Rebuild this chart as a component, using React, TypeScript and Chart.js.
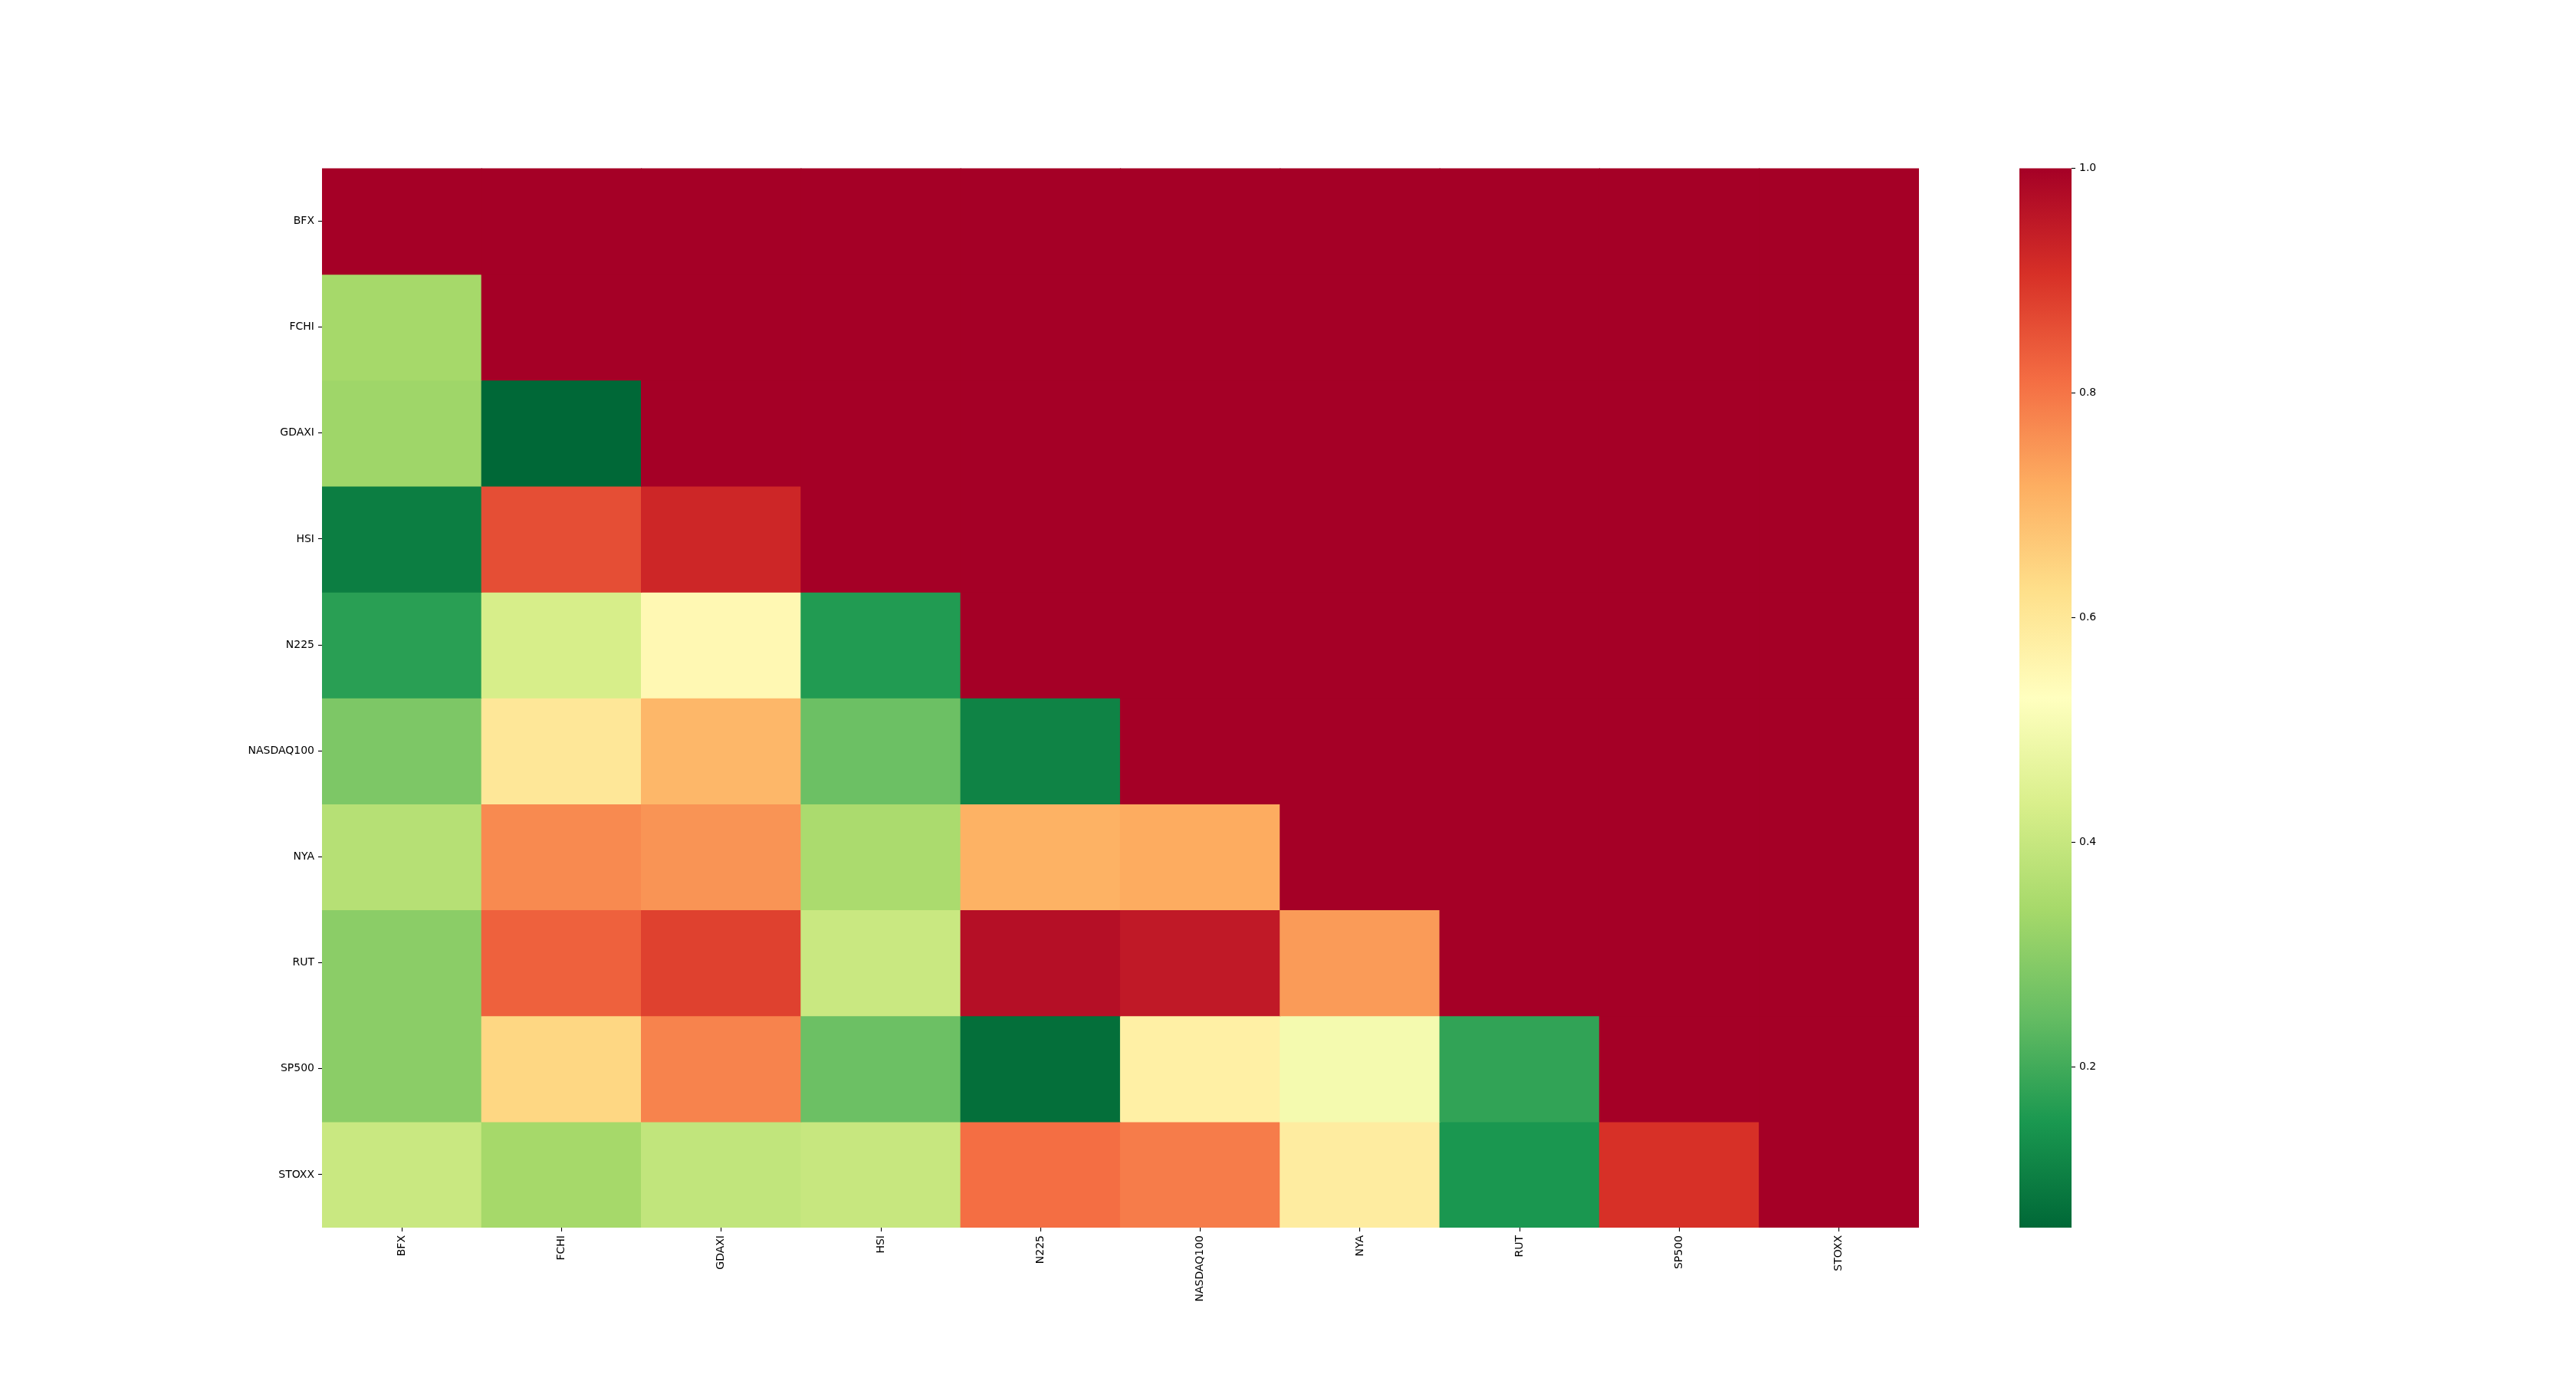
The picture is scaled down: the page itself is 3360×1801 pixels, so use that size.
import React, { useEffect, useRef } from 'react';
import { Chart, registerables } from 'chart.js';

Chart.register(...registerables);

const FONT = "'DejaVu Sans', sans-serif";

// Category labels (rows top→bottom, columns left→right)
const labels = ['BFX', 'FCHI', 'GDAXI', 'HSI', 'N225', 'NASDAQ100', 'NYA', 'RUT', 'SP500', 'STOXX'];

// Correlation matrix rows (upper triangle incl. diagonal shown as 1.0)
const rowBFX = [1, 1, 1, 1, 1, 1, 1, 1, 1, 1];
const rowFCHI = [0.34, 1, 1, 1, 1, 1, 1, 1, 1, 1];
const rowGDAXI = [0.33, 0.057, 1, 1, 1, 1, 1, 1, 1, 1];
const rowHSI = [0.1, 0.86, 0.925, 1, 1, 1, 1, 1, 1, 1];
const rowN225 = [0.17, 0.43, 0.55, 0.16, 1, 1, 1, 1, 1, 1];
const rowNASDAQ100 = [0.28, 0.6, 0.7, 0.255, 0.11, 1, 1, 1, 1, 1];
const rowNYA = [0.37, 0.77, 0.755, 0.35, 0.71, 0.72, 1, 1, 1, 1];
const rowRUT = [0.3, 0.83, 0.88, 0.405, 0.97, 0.95, 0.745, 1, 1, 1];
const rowSP500 = [0.3, 0.64, 0.78, 0.255, 0.07, 0.575, 0.5, 0.18, 1, 1];
const rowSTOXX = [0.405, 0.34, 0.39, 0.4, 0.81, 0.79, 0.585, 0.15, 0.905, 1];

const matrix = [rowBFX, rowFCHI, rowGDAXI, rowHSI, rowN225, rowNASDAQ100, rowNYA, rowRUT, rowSP500, rowSTOXX];

// Colour scale range and colorbar ticks
const vMin = 0.057;
const vMax = 1.0;
const colorbarTicks = [0.2, 0.4, 0.6, 0.8, 1.0];

// RdYlGn_r colormap stops (low → high)
const STOPS = [
  '#006837', '#1a9850', '#66bd63', '#a6d96a', '#d9ef8b', '#ffffbf',
  '#fee08b', '#fdae61', '#f46d43', '#d73027', '#a50026',
];

function hexToRgb(h: string) {
  return [parseInt(h.slice(1, 3), 16), parseInt(h.slice(3, 5), 16), parseInt(h.slice(5, 7), 16)];
}
const STOP_RGB = STOPS.map(hexToRgb);

function cmap(t: number) {
  const tt = Math.max(0, Math.min(1, t));
  const n = STOP_RGB.length - 1;
  const x = tt * n;
  const i = Math.min(Math.floor(x), n - 1);
  const f = x - i;
  const a = STOP_RGB[i];
  const b = STOP_RGB[i + 1];
  const c = a.map((v, k) => Math.round(v + (b[k] - v) * f));
  return `rgb(${c[0]},${c[1]},${c[2]})`;
}

function valueColor(v: number) {
  return cmap((v - vMin) / (vMax - vMin));
}

export default function App() {
  const heatRef = useRef<HTMLCanvasElement>(null);
  const barRef = useRef<HTMLCanvasElement>(null);

  useEffect(() => {
    const heat = new Chart(heatRef.current!, {
      type: 'bar',
      data: {
        labels,
        datasets: matrix.map((row, r) => ({
          label: labels[r],
          data: labels.map(() => [r, r + 1]) as any,
          backgroundColor: row.map((v) => valueColor(v)),
          borderWidth: 0,
          inflateAmount: 0.6,
          barPercentage: 1,
          categoryPercentage: 1,
          grouped: false,
        })),
      },
      options: {
        animation: false,
        responsive: false,
        maintainAspectRatio: false,
        layout: { padding: { top: 10, right: 10, left: 0, bottom: 0 } },
        plugins: { legend: { display: false }, tooltip: { enabled: false } },
        scales: {
          x: {
            type: 'category',
            offset: true,
            border: { display: false },
            grid: { offset: false, drawOnChartArea: false, tickLength: 5, tickWidth: 1.1, tickColor: '#000' },
            ticks: {
              autoSkip: false,
              minRotation: 90,
              maxRotation: 90,
              padding: 5,
              color: '#000',
              font: { family: FONT, size: 14 },
            },
            afterFit: (s: any) => { s.height = 200; },
          },
          y: {
            type: 'linear',
            min: 0,
            max: labels.length,
            reverse: true,
            border: { display: false },
            grid: { drawOnChartArea: false, tickLength: 5, tickWidth: 1.1, tickColor: '#000' },
            afterBuildTicks: (s: any) => { s.ticks = labels.map((_, i) => ({ value: i + 0.5 })); },
            ticks: {
              autoSkip: false,
              padding: 5,
              color: '#000',
              font: { family: FONT, size: 14 },
              callback: (_v: any, i: number) => labels[i],
            },
            afterFit: (s: any) => { s.width = 200; },
          },
        },
      },
    } as any);

    const bar = new Chart(barRef.current!, {
      type: 'bar',
      data: {
        labels: ['colorbar'],
        datasets: [{
          data: [[vMin, vMax]] as any,
          borderWidth: 0,
          barPercentage: 1,
          categoryPercentage: 1,
          backgroundColor: (ctx: any) => {
            const chart = ctx.chart;
            const ys = chart.scales?.y;
            if (!chart.chartArea || !ys) return STOPS[5];
            const y0 = ys.getPixelForValue(vMin);
            const y1 = ys.getPixelForValue(vMax);
            const g = chart.ctx.createLinearGradient(0, y0, 0, y1);
            STOPS.forEach((c, i) => g.addColorStop(i / (STOPS.length - 1), c));
            return g;
          },
        }],
      },
      options: {
        animation: false,
        responsive: false,
        maintainAspectRatio: false,
        layout: { padding: { top: 10, right: 0, left: 0, bottom: 200 } },
        plugins: { legend: { display: false }, tooltip: { enabled: false } },
        scales: {
          x: { display: false, offset: true },
          y: {
            type: 'linear',
            position: 'right',
            min: vMin,
            max: vMax,
            border: { display: false },
            grid: { drawOnChartArea: false, tickLength: 5, tickWidth: 1.1, tickColor: '#000' },
            afterBuildTicks: (s: any) => { s.ticks = colorbarTicks.map((v) => ({ value: v })); },
            ticks: {
              autoSkip: false,
              padding: 5,
              color: '#000',
              font: { family: FONT, size: 14 },
              callback: (v: any) => Number(v).toFixed(1),
            },
            afterFit: (s: any) => { s.width = 150; },
          },
        },
      },
    } as any);

    return () => { heat.destroy(); bar.destroy(); };
  }, []);

  return (
    <div style={{ position: 'fixed', left: 0, top: 0, width: 3360, height: 1801, background: '#fff' }}>
      <canvas
        ref={heatRef}
        width={2293}
        height={1595}
        style={{ position: 'absolute', left: 220, top: 206, width: 2293, height: 1595 }}
      />
      <canvas
        ref={barRef}
        width={218}
        height={1595}
        style={{ position: 'absolute', left: 2634, top: 206, width: 218, height: 1595 }}
      />
    </div>
  );
}
